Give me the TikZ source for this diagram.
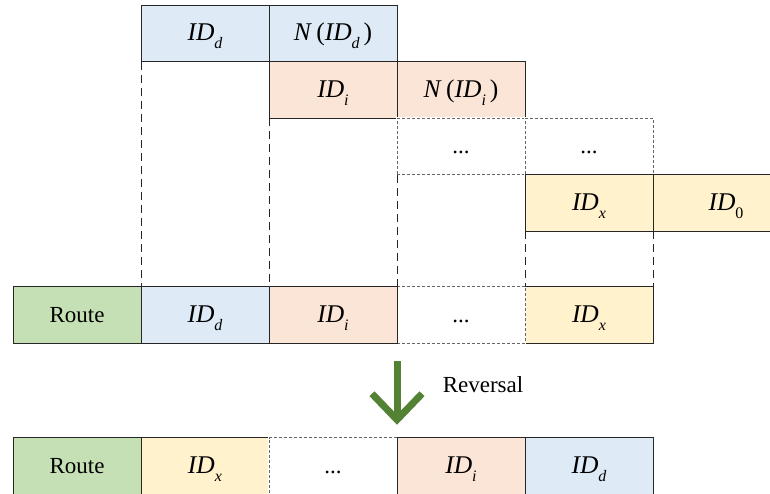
\documentclass[tikz,border=0pt]{standalone}
\usepackage{fontspec}
\setmainfont{Liberation Serif}
\usetikzlibrary{arrows.meta}
\definecolor{azulc}{HTML}{DEEBF7}
\definecolor{laranjac}{HTML}{FBE5D6}
\definecolor{amareloc}{HTML}{FFF2CC}
\definecolor{verdec}{HTML}{C5E0B4}
\definecolor{verdeseta}{HTML}{548235}
\newcommand{\idsub}[1]{{\fontsize{25.5}{25.5}\selectfont\textit{ID}}\raisebox{-8pt}{\fontsize{16}{16}\selectfont #1}}
\begin{document}
\begin{tikzpicture}[x=1pt, y=-1pt,
            celula/.style={shape=rectangle, draw=black!85, line width=0.9pt, minimum width=128pt, minimum height=56.5pt, inner sep=0pt, outer sep=0pt, text height=15pt, text depth=1pt, font=\fontsize{23}{23}\selectfont},
            vazia/.style={celula, draw=black!60, dash pattern=on 3pt off 2pt, preaction={draw=white, solid, line width=1.6pt}},
            guia/.style={draw=black!85, line width=0.9pt, dash pattern=on 8pt off 5pt},
            seta/.style={draw=verdeseta, line width=7pt, -{Straight Barb[length=26pt, width=50pt]}},
            rotulo/.style={font=\fontsize{23}{23}\selectfont},
        ]
        \clip (0,0) rectangle (770,493);

        \node[celula, fill=azulc] (da) at (205,33.5) {\idsub{\textit{d}}};
        \node[celula, fill=azulc] (nda) at (333,33.5) {{\fontsize{25.5}{25.5}\selectfont\textit{N}\,(}\idsub{\textit{d}}\,{\fontsize{25.5}{25.5}\selectfont)}};
        \node[celula, fill=laranjac] (ib) at (333,90) {\idsub{\textit{i}}};
        \node[celula, fill=laranjac] (nib) at (461,90) {{\fontsize{25.5}{25.5}\selectfont\textit{N}\,(}\idsub{\textit{i}}\,{\fontsize{25.5}{25.5}\selectfont)}};
        \node[vazia] (pc1) at (461,146.5) {...};
        \node[vazia] (pc2) at (589,146.5) {...};
        \node[celula, fill=amareloc] (xd) at (589,203) {\idsub{\textit{x}}};
        \node[celula, fill=amareloc] (zd) at (717,203) {\hspace{18pt}\idsub{0}};

        \node[celula, fill=verdec] (rota) at (77,315) {Route};
        \node[celula, fill=azulc] (dr) at (205,315) {\idsub{\textit{d}}};
        \node[celula, fill=amareloc] (xr) at (589,315) {\idsub{\textit{x}}};
        \node[vazia] (pr) at (461,315) {...};
        \node[celula, fill=laranjac] (ir) at (333,315) {\idsub{\textit{i}}};

        \node[celula, fill=verdec] (rotab) at (77,466) {Route};
        \node[celula, fill=amareloc] (xb) at (205,466) {\idsub{\textit{x}}};
        \node[vazia] (pb) at (333,466) {...};
        \node[celula, fill=laranjac] (ibb) at (461,466) {\idsub{\textit{i}}};
        \node[celula, fill=azulc] (dbb) at (589,466) {\idsub{\textit{d}}};

        \draw[guia] (da.south west) -- (dr.north west);
        \draw[guia] (ib.south west) -- (ir.north west);
        \draw[guia] (pc1.south west) -- (pr.north west);
        \draw[guia] (xd.south west) -- (xr.north west);
        \draw[guia] (xd.south east) -- (xr.north east);

        \draw[seta, shorten <=18pt, shorten >=13pt] (ir.south east) -- (pb.north east);
        \node[rotulo] (rev) at (483,385) {Reversal};

    \end{tikzpicture}
\end{document}
